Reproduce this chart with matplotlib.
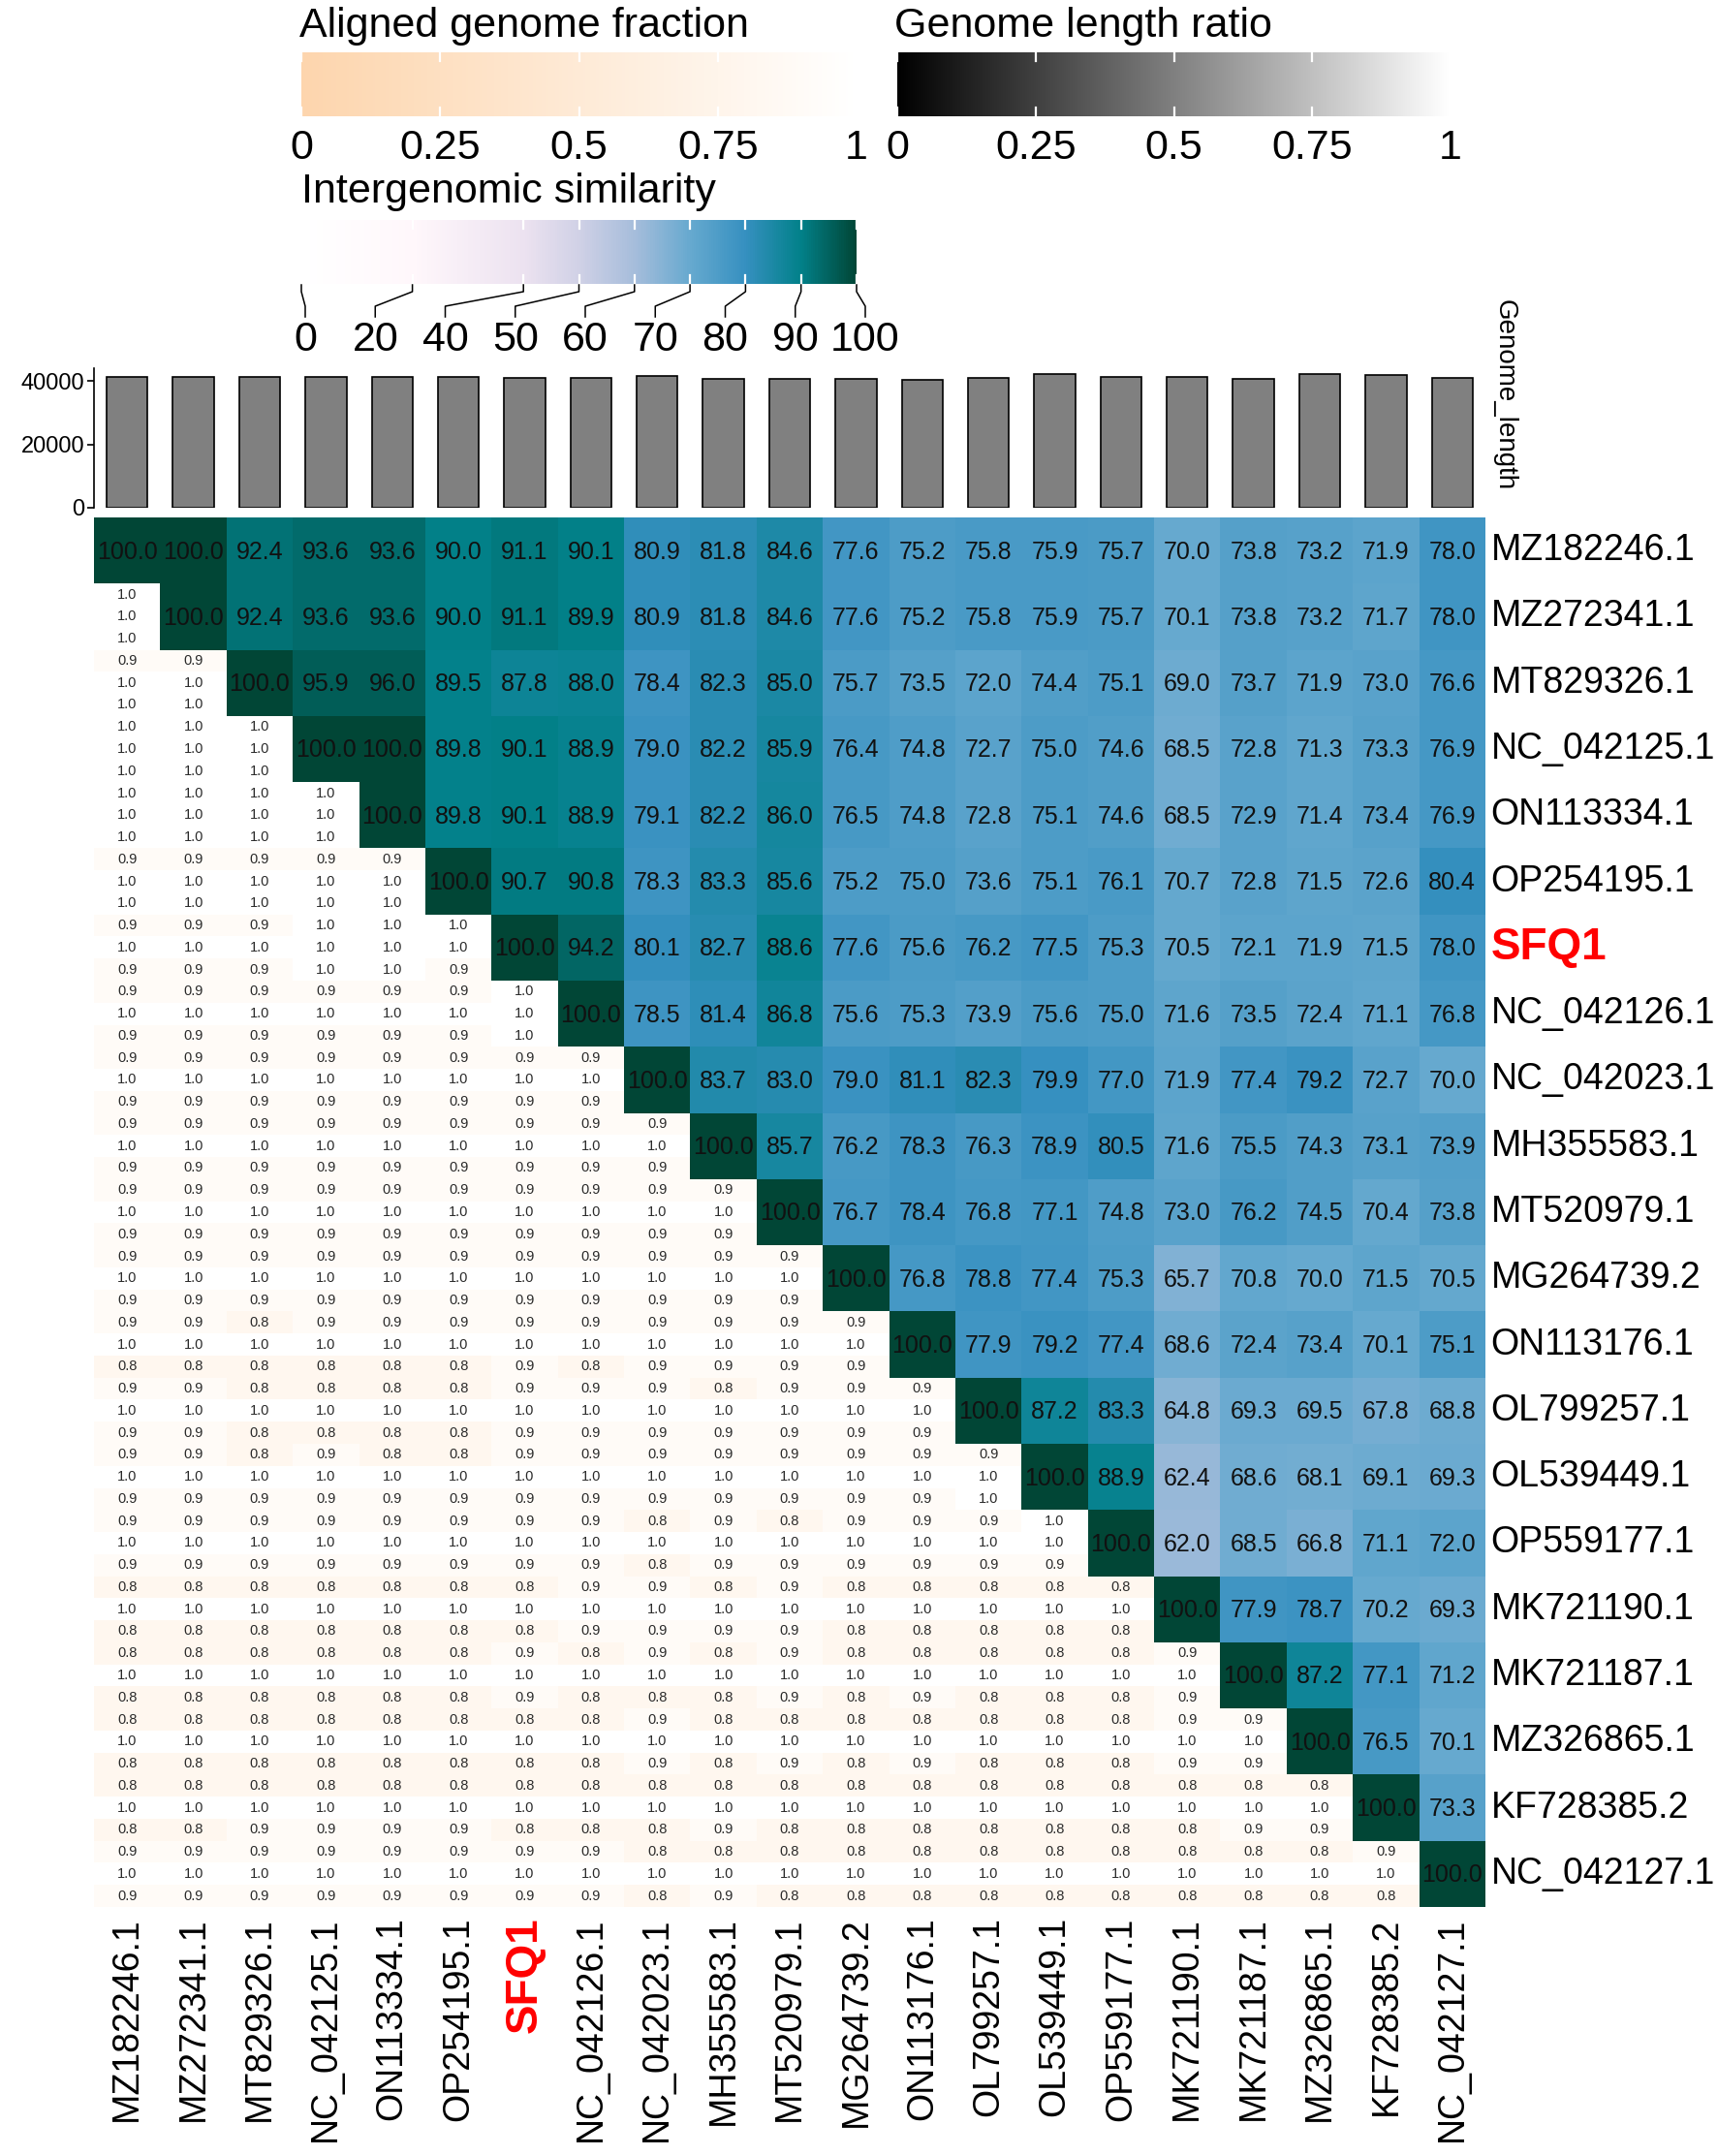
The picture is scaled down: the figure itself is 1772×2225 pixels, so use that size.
import numpy as np
import matplotlib
matplotlib.use('Agg')
import matplotlib.pyplot as plt
from matplotlib.colors import LinearSegmentedColormap, Normalize
from matplotlib.cm import ScalarMappable
from matplotlib.lines import Line2D

plt.rcParams['font.family'] = ['Liberation Sans', 'DejaVu Sans']

# ---------------- data ----------------
genomes = ["MZ182246.1", "MZ272341.1", "MT829326.1", "NC_042125.1", "ON113334.1",
           "OP254195.1", "SFQ1", "NC_042126.1", "NC_042023.1", "MH355583.1",
           "MT520979.1", "MG264739.2", "ON113176.1", "OL799257.1", "OL539449.1",
           "OP559177.1", "MK721190.1", "MK721187.1", "MZ326865.1", "KF728385.2",
           "NC_042127.1"]

genome_length = [41100, 41100, 41100, 41100, 41100, 41300, 41000, 41000, 41700, 40500,
                 40500, 40500, 40300, 41000, 42300, 41300, 41100, 40700, 42200, 42000,
                 41000]

# intergenomic similarity, upper triangle (row r, columns r..20)
similarity_upper = [
    [100.0, 100.0, 92.4, 93.6, 93.6, 90.0, 91.1, 90.1, 80.9, 81.8, 84.6, 77.6, 75.2, 75.8, 75.9, 75.7, 70.0, 73.8, 73.2, 71.9, 78.0],
    [100.0, 92.4, 93.6, 93.6, 90.0, 91.1, 89.9, 80.9, 81.8, 84.6, 77.6, 75.2, 75.8, 75.9, 75.7, 70.1, 73.8, 73.2, 71.7, 78.0],
    [100.0, 95.9, 96.0, 89.5, 87.8, 88.0, 78.4, 82.3, 85.0, 75.7, 73.5, 72.0, 74.4, 75.1, 69.0, 73.7, 71.9, 73.0, 76.6],
    [100.0, 100.0, 89.8, 90.1, 88.9, 79.0, 82.2, 85.9, 76.4, 74.8, 72.7, 75.0, 74.6, 68.5, 72.8, 71.3, 73.3, 76.9],
    [100.0, 89.8, 90.1, 88.9, 79.1, 82.2, 86.0, 76.5, 74.8, 72.8, 75.1, 74.6, 68.5, 72.9, 71.4, 73.4, 76.9],
    [100.0, 90.7, 90.8, 78.3, 83.3, 85.6, 75.2, 75.0, 73.6, 75.1, 76.1, 70.7, 72.8, 71.5, 72.6, 80.4],
    [100.0, 94.2, 80.1, 82.7, 88.6, 77.6, 75.6, 76.2, 77.5, 75.3, 70.5, 72.1, 71.9, 71.5, 78.0],
    [100.0, 78.5, 81.4, 86.8, 75.6, 75.3, 73.9, 75.6, 75.0, 71.6, 73.5, 72.4, 71.1, 76.8],
    [100.0, 83.7, 83.0, 79.0, 81.1, 82.3, 79.9, 77.0, 71.9, 77.4, 79.2, 72.7, 70.0],
    [100.0, 85.7, 76.2, 78.3, 76.3, 78.9, 80.5, 71.6, 75.5, 74.3, 73.1, 73.9],
    [100.0, 76.7, 78.4, 76.8, 77.1, 74.8, 73.0, 76.2, 74.5, 70.4, 73.8],
    [100.0, 76.8, 78.8, 77.4, 75.3, 65.7, 70.8, 70.0, 71.5, 70.5],
    [100.0, 77.9, 79.2, 77.4, 68.6, 72.4, 73.4, 70.1, 75.1],
    [100.0, 87.2, 83.3, 64.8, 69.3, 69.5, 67.8, 68.8],
    [100.0, 88.9, 62.4, 68.6, 68.1, 69.1, 69.3],
    [100.0, 62.0, 68.5, 66.8, 71.1, 72.0],
    [100.0, 77.9, 78.7, 70.2, 69.3],
    [100.0, 87.2, 77.1, 71.2],
    [100.0, 76.5, 70.1],
    [100.0, 73.3],
    [100.0],
]

# aligned genome fraction, lower triangle, first value of each cell (row r, columns 0..r-1)
aligned_top = [
    [],
    [1.0],
    [0.9, 0.9],
    [1.0, 1.0, 1.0],
    [1.0, 1.0, 1.0, 1.0],
    [0.9, 0.9, 0.9, 0.9, 0.9],
    [0.9, 0.9, 0.9, 1.0, 1.0, 1.0],
    [0.9, 0.9, 0.9, 0.9, 0.9, 0.9, 1.0],
    [0.9, 0.9, 0.9, 0.9, 0.9, 0.9, 0.9, 0.9],
    [0.9, 0.9, 0.9, 0.9, 0.9, 0.9, 0.9, 0.9, 0.9],
    [0.9, 0.9, 0.9, 0.9, 0.9, 0.9, 0.9, 0.9, 0.9, 0.9],
    [0.9, 0.9, 0.9, 0.9, 0.9, 0.9, 0.9, 0.9, 0.9, 0.9, 0.9],
    [0.9, 0.9, 0.8, 0.9, 0.9, 0.9, 0.9, 0.9, 0.9, 0.9, 0.9, 0.9],
    [0.9, 0.9, 0.8, 0.8, 0.8, 0.8, 0.9, 0.9, 0.9, 0.8, 0.9, 0.9, 0.9],
    [0.9, 0.9, 0.8, 0.9, 0.8, 0.8, 0.9, 0.9, 0.9, 0.9, 0.9, 0.9, 0.9, 0.9],
    [0.9, 0.9, 0.9, 0.9, 0.9, 0.9, 0.9, 0.9, 0.8, 0.9, 0.8, 0.9, 0.9, 0.9, 1.0],
    [0.8, 0.8, 0.8, 0.8, 0.8, 0.8, 0.8, 0.9, 0.9, 0.8, 0.9, 0.8, 0.8, 0.8, 0.8, 0.8],
    [0.8, 0.8, 0.8, 0.8, 0.8, 0.8, 0.9, 0.8, 0.9, 0.8, 0.9, 0.8, 0.8, 0.8, 0.8, 0.8, 0.9],
    [0.8, 0.8, 0.8, 0.8, 0.8, 0.8, 0.8, 0.8, 0.9, 0.8, 0.8, 0.8, 0.8, 0.8, 0.8, 0.8, 0.9, 0.9],
    [0.8, 0.8, 0.8, 0.8, 0.8, 0.8, 0.8, 0.8, 0.8, 0.8, 0.8, 0.8, 0.8, 0.8, 0.8, 0.8, 0.8, 0.8, 0.8],
    [0.9, 0.9, 0.9, 0.9, 0.9, 0.9, 0.9, 0.9, 0.8, 0.8, 0.8, 0.8, 0.8, 0.8, 0.8, 0.8, 0.8, 0.8, 0.8, 0.9],
]

# aligned genome fraction, lower triangle, second value of each cell
aligned_bottom = [
    [],
    [1.0],
    [1.0, 1.0],
    [1.0, 1.0, 1.0],
    [1.0, 1.0, 1.0, 1.0],
    [1.0, 1.0, 1.0, 1.0, 1.0],
    [0.9, 0.9, 0.9, 1.0, 1.0, 0.9],
    [0.9, 0.9, 0.9, 0.9, 0.9, 0.9, 1.0],
    [0.9, 0.9, 0.9, 0.9, 0.9, 0.9, 0.9, 0.9],
    [0.9, 0.9, 0.9, 0.9, 0.9, 0.9, 0.9, 0.9, 0.9],
    [0.9, 0.9, 0.9, 0.9, 0.9, 0.9, 0.9, 0.9, 0.9, 0.9],
    [0.9, 0.9, 0.9, 0.9, 0.9, 0.9, 0.9, 0.9, 0.9, 0.9, 0.9],
    [0.8, 0.8, 0.8, 0.8, 0.8, 0.8, 0.9, 0.8, 0.9, 0.9, 0.9, 0.9],
    [0.9, 0.9, 0.8, 0.8, 0.8, 0.8, 0.9, 0.9, 0.9, 0.9, 0.9, 0.9, 0.9],
    [0.9, 0.9, 0.9, 0.9, 0.9, 0.9, 0.9, 0.9, 0.9, 0.9, 0.9, 0.9, 0.9, 1.0],
    [0.9, 0.9, 0.9, 0.9, 0.9, 0.9, 0.9, 0.9, 0.8, 0.9, 0.9, 0.9, 0.9, 0.9, 0.9],
    [0.8, 0.8, 0.8, 0.8, 0.8, 0.8, 0.8, 0.9, 0.9, 0.9, 0.9, 0.8, 0.8, 0.8, 0.8, 0.8],
    [0.8, 0.8, 0.8, 0.8, 0.8, 0.8, 0.9, 0.8, 0.8, 0.8, 0.9, 0.8, 0.9, 0.8, 0.8, 0.8, 0.9],
    [0.8, 0.8, 0.8, 0.8, 0.8, 0.8, 0.8, 0.8, 0.9, 0.8, 0.9, 0.8, 0.9, 0.8, 0.8, 0.8, 0.9, 0.9],
    [0.8, 0.8, 0.9, 0.9, 0.9, 0.9, 0.8, 0.8, 0.8, 0.9, 0.8, 0.8, 0.8, 0.8, 0.8, 0.8, 0.8, 0.9, 0.9],
    [0.9, 0.9, 0.9, 0.9, 0.9, 0.9, 0.9, 0.9, 0.8, 0.9, 0.8, 0.8, 0.8, 0.8, 0.8, 0.8, 0.8, 0.8, 0.8, 0.8],
]

# genome length ratio, lower triangle, middle value of each cell
length_ratio = [
    [],
    [1.0],
    [1.0, 1.0],
    [1.0, 1.0, 1.0],
    [1.0, 1.0, 1.0, 1.0],
    [1.0, 1.0, 1.0, 1.0, 1.0],
    [1.0, 1.0, 1.0, 1.0, 1.0, 1.0],
    [1.0, 1.0, 1.0, 1.0, 1.0, 1.0, 1.0],
    [1.0, 1.0, 1.0, 1.0, 1.0, 1.0, 1.0, 1.0],
    [1.0, 1.0, 1.0, 1.0, 1.0, 1.0, 1.0, 1.0, 1.0],
    [1.0, 1.0, 1.0, 1.0, 1.0, 1.0, 1.0, 1.0, 1.0, 1.0],
    [1.0, 1.0, 1.0, 1.0, 1.0, 1.0, 1.0, 1.0, 1.0, 1.0, 1.0],
    [1.0, 1.0, 1.0, 1.0, 1.0, 1.0, 1.0, 1.0, 1.0, 1.0, 1.0, 1.0],
    [1.0, 1.0, 1.0, 1.0, 1.0, 1.0, 1.0, 1.0, 1.0, 1.0, 1.0, 1.0, 1.0],
    [1.0, 1.0, 1.0, 1.0, 1.0, 1.0, 1.0, 1.0, 1.0, 1.0, 1.0, 1.0, 1.0, 1.0],
    [1.0, 1.0, 1.0, 1.0, 1.0, 1.0, 1.0, 1.0, 1.0, 1.0, 1.0, 1.0, 1.0, 1.0, 1.0],
    [1.0, 1.0, 1.0, 1.0, 1.0, 1.0, 1.0, 1.0, 1.0, 1.0, 1.0, 1.0, 1.0, 1.0, 1.0, 1.0],
    [1.0, 1.0, 1.0, 1.0, 1.0, 1.0, 1.0, 1.0, 1.0, 1.0, 1.0, 1.0, 1.0, 1.0, 1.0, 1.0, 1.0],
    [1.0, 1.0, 1.0, 1.0, 1.0, 1.0, 1.0, 1.0, 1.0, 1.0, 1.0, 1.0, 1.0, 1.0, 1.0, 1.0, 1.0, 1.0],
    [1.0, 1.0, 1.0, 1.0, 1.0, 1.0, 1.0, 1.0, 1.0, 1.0, 1.0, 1.0, 1.0, 1.0, 1.0, 1.0, 1.0, 1.0, 1.0],
    [1.0, 1.0, 1.0, 1.0, 1.0, 1.0, 1.0, 1.0, 1.0, 1.0, 1.0, 1.0, 1.0, 1.0, 1.0, 1.0, 1.0, 1.0, 1.0, 1.0],
]

sim_legend_ticks = [0, 20, 40, 50, 60, 70, 80, 90, 100]
frac_legend_ticks = [0, 0.25, 0.5, 0.75, 1]
frac_legend_labels = ["0", "0.25", "0.5", "0.75", "1"]
highlight = "SFQ1"

# ---------------- colours ----------------
sim_cmap = LinearSegmentedColormap.from_list(
    "sim", list(zip([v / 100 for v in sim_legend_ticks],
                    ["#ffffff", "#fff7fb", "#ece2f0", "#d0d1e6", "#a6bddb",
                     "#67a9cf", "#3690c0", "#02818a", "#014636"])))
frac_cmap = LinearSegmentedColormap.from_list("frac", ["#fdd5ad", "#ffffff"])
ratio_cmap = LinearSegmentedColormap.from_list("ratio", ["#000000", "#ffffff"])

# ---------------- layout helpers ----------------
W, H = 1772, 2225
fig = plt.figure(figsize=(W / 100, H / 100), dpi=100)
fig.patch.set_facecolor("white")


def fx(x):
    return x / W


def fy(y):
    return 1 - y / H


def px_axes(x0, y0, x1, y1):
    return fig.add_axes([fx(x0), fy(y1), (x1 - x0) / W, (y1 - y0) / H])


N = len(genomes)
HM = (97, 534, 1533, 1968)

# ---------------- heatmap ----------------
ax = px_axes(*HM)
S = np.full((N, N), np.nan)
for r in range(N):
    S[r, r:] = similarity_upper[r]
A = np.full((3 * N, N), np.nan)
R = np.full((3 * N, N), np.nan)
for r in range(N):
    for c in range(r):
        A[3 * r, c] = aligned_top[r][c]
        R[3 * r + 1, c] = length_ratio[r][c]
        A[3 * r + 2, c] = aligned_bottom[r][c]

xe = np.arange(N + 1)
ye = np.arange(N + 1)
ye3 = np.linspace(0, N, 3 * N + 1)
ax.pcolormesh(xe, ye3, np.ma.masked_invalid(A), cmap=frac_cmap, vmin=0, vmax=1)
ax.pcolormesh(xe, ye3, np.ma.masked_invalid(R), cmap=ratio_cmap, vmin=0, vmax=1)
ax.pcolormesh(xe, ye, np.ma.masked_invalid(S), cmap=sim_cmap, vmin=0, vmax=100)
ax.set_xlim(0, N)
ax.set_ylim(N, 0)
ax.axis("off")

for r in range(N):
    for j, v in enumerate(similarity_upper[r]):
        c = r + j
        ax.text(c + 0.5, r + 0.52, f"{v:.1f}", ha="center", va="center",
                fontsize=18, color="#111111")
    for c in range(r):
        for k, v in enumerate((aligned_top[r][c], length_ratio[r][c], aligned_bottom[r][c])):
            ax.text(c + 0.5, r + (k + 0.5) / 3, f"{v:.1f}", ha="center", va="center",
                    fontsize=10.5, color="#2a2a2a")

for i, name in enumerate(genomes):
    hl = name == highlight
    kw = dict(color="red", fontsize=33, fontweight="bold") if hl else dict(color="black", fontsize=27)
    ax.text(N + 0.08, i + 0.5, name, ha="left", va="center", clip_on=False, **kw)
    ax.text(i + 0.5, N + 0.15, name, ha="center", va="top", rotation=90,
            clip_on=False, **kw)

# ---------------- genome length bars ----------------
axb = px_axes(HM[0], 380, HM[2], 524)
axb.bar(np.arange(N) + 0.5, genome_length, width=0.62, color="#808080",
        edgecolor="black", linewidth=1.2)
axb.set_xlim(0, N)
axb.set_ylim(0, 44000)
for s in ("top", "right", "bottom"):
    axb.spines[s].set_visible(False)
axb.spines["left"].set_linewidth(1.2)
axb.set_xticks([])
axb.set_yticks([0, 20000, 40000])
axb.set_yticklabels(["0", "20000", "40000"])
axb.tick_params(axis="y", labelsize=17, length=5, width=1.2, pad=2)
fig.text(fx(1553), fy(309), "Genome_length", rotation=270, ha="center", va="top",
         fontsize=20)

# ---------------- legends ----------------
def gradient_legend(x0, x1, y0, y1, cmap, vmin, vmax, ticks, labels):
    cax = px_axes(x0, y0, x1, y1)
    cb = fig.colorbar(ScalarMappable(Normalize(vmin, vmax), cmap), cax=cax,
                      orientation="horizontal")
    cb.outline.set_visible(False)
    cb.set_ticks(ticks)
    cb.set_ticklabels(labels)
    cax.tick_params(length=0, labelsize=31, pad=9)
    for t in ticks:
        cax.axvline(t, 0, 0.13, color="white", lw=1.6)
        cax.axvline(t, 0.87, 1, color="white", lw=1.6)
    return cax


gradient_legend(311, 884, 54, 120, frac_cmap, 0, 1, frac_legend_ticks, frac_legend_labels)
gradient_legend(926, 1497, 54, 120, ratio_cmap, 0, 1, frac_legend_ticks, frac_legend_labels)
fig.text(fx(309), fy(27), "Aligned genome fraction", fontsize=31, ha="left", va="center")
fig.text(fx(923), fy(27), "Genome length ratio", fontsize=31, ha="left", va="center")

sx0, sx1 = 311, 884
cax3 = gradient_legend(sx0, sx1, 227, 293, sim_cmap, 0, 100, sim_legend_ticks,
                       [""] * len(sim_legend_ticks))
fig.text(fx(311), fy(198), "Intergenomic similarity", fontsize=31, ha="left", va="center")
label_x = np.linspace(315, 893, len(sim_legend_ticks))
for t, lx in zip(sim_legend_ticks, label_x):
    tx = sx0 + (sx1 - sx0) * t / 100
    fig.add_artist(Line2D([fx(tx), fx(tx), fx(lx), fx(lx)],
                          [fy(294), fy(301), fy(316), fy(327)],
                          transform=fig.transFigure, color="black", lw=1.1))
    fig.text(fx(lx), fy(351), str(t), fontsize=31, ha="center", va="center")

fig.savefig("out.png", dpi=100, facecolor="white")
